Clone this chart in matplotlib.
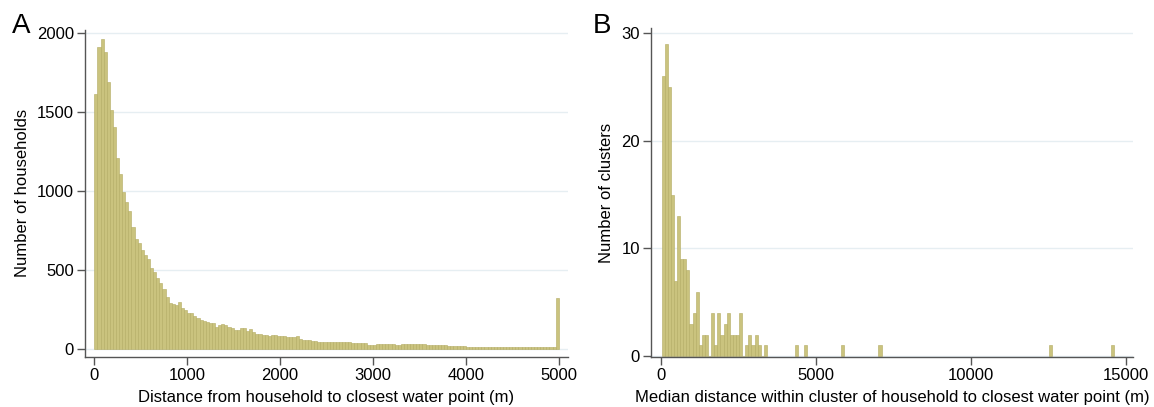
import numpy as np
import matplotlib
matplotlib.use("Agg")
import matplotlib.pyplot as plt

plt.rcParams["font.family"] = ["Liberation Sans", "DejaVu Sans"]

# ---- DATA ----
# Panel A: households per 33.3 m bin, 0-5000 m (last bin = capped values)
hh_counts = [
    1615, 1915, 1962, 1884, 1693, 1513, 1403, 1206, 1107, 995,
    931, 872, 772, 698, 667, 624, 597, 567, 510, 487,
    450, 418, 378, 330, 292, 285, 280, 296, 255, 244,
    228, 223, 205, 195, 181, 175, 168, 162, 164, 140,
    147, 157, 152, 138, 128, 121, 121, 132, 130, 115,
    122, 104, 96, 93, 88, 84, 83, 85, 86, 82,
    78, 79, 76, 72, 74, 80, 60, 55, 52, 53,
    50, 47, 42, 40, 41, 40, 44, 45, 42, 43,
    41, 42, 40, 38, 37, 34, 34, 33, 26, 25,
    26, 30, 31, 30, 29, 28, 27, 24, 23, 29,
    31, 30, 31, 29, 28, 27, 27, 25, 26, 25,
    24, 22, 23, 21, 18, 17, 16, 17, 15, 14,
    10, 9, 8, 9, 8, 8, 9, 8, 9, 8,
    9, 10, 9, 8, 9, 9, 10, 11, 10, 9,
    11, 10, 9, 8, 9, 8, 9, 9, 10, 324,
]
hh_max = 5000

# Panel B: clusters per 100 m bin starting at 30 m
cl_start = 30
cl_width = 100
cl_counts = [26, 29, 25, 15, 7, 13, 9, 9, 8, 3,
             4, 6, 1, 2, 2, 0, 4, 1, 4, 2,
             3, 4, 2, 2, 2, 4, 0, 1, 2, 1,
             2, 1, 0, 1]
# single far-away clusters (bin left edges, m)
cl_outliers = [4330, 4630, 5830, 7030, 12530, 14530]

BAR = "#cac37e"
EDGE = "#b3ab62"
GRID = "#e6eef2"
AX = "#555555"


def style(ax):
    for s in ["top", "right"]:
        ax.spines[s].set_visible(False)
    for s in ["left", "bottom"]:
        ax.spines[s].set_color(AX)
        ax.spines[s].set_linewidth(1.0)
    ax.tick_params(labelsize=12, length=6, width=1.0, color=AX, pad=2)
    ax.yaxis.grid(True, color=GRID, linewidth=1.0)
    ax.set_axisbelow(True)


fig = plt.figure(figsize=(11.54, 4.07), dpi=100)

# ---- A ----
ax1 = fig.add_axes([0.0737, 0.1236, 0.4185, 0.8027])
w = hh_max / len(hh_counts)
left = np.arange(len(hh_counts)) * w
ax1.bar(left, hh_counts, width=w, align="edge", color=BAR,
        edgecolor=EDGE, linewidth=0.4)
ax1.set_xlim(-100, 5100)
ax1.set_ylim(-51, 2021)
ax1.set_xticks([0, 1000, 2000, 3000, 4000, 5000])
ax1.set_yticks([0, 500, 1000, 1500, 2000])
style(ax1)
ax1.set_xlabel("Distance from household to closest water point (m)",
               fontsize=12, labelpad=5)
ax1.set_ylabel("Number of households", fontsize=12, labelpad=5)
fig.text(0.010, 0.935, "A", fontsize=20, va="center")

# ---- B ----
ax2 = fig.add_axes([0.5641, 0.1236, 0.4177, 0.8069])
cl_left = cl_start + np.arange(len(cl_counts)) * cl_width
ax2.bar(cl_left, cl_counts, width=cl_width, align="edge", color=BAR,
        edgecolor=EDGE, linewidth=0.4)
ax2.bar(cl_outliers, [1] * len(cl_outliers), width=cl_width, align="edge",
        color=BAR, edgecolor=EDGE, linewidth=0.4)
ax2.set_xlim(-310, 15240)
ax2.set_ylim(-0.05, 30.45)
ax2.set_xticks([0, 5000, 10000, 15000])
ax2.set_yticks([0, 10, 20, 30])
style(ax2)
ax2.set_xlabel("Median distance within cluster of household to closest water point (m)",
               fontsize=12, labelpad=5)
ax2.set_ylabel("Number of clusters", fontsize=12, labelpad=5)
fig.text(0.514, 0.935, "B", fontsize=20, va="center")

fig.savefig("out.png", dpi=100)
